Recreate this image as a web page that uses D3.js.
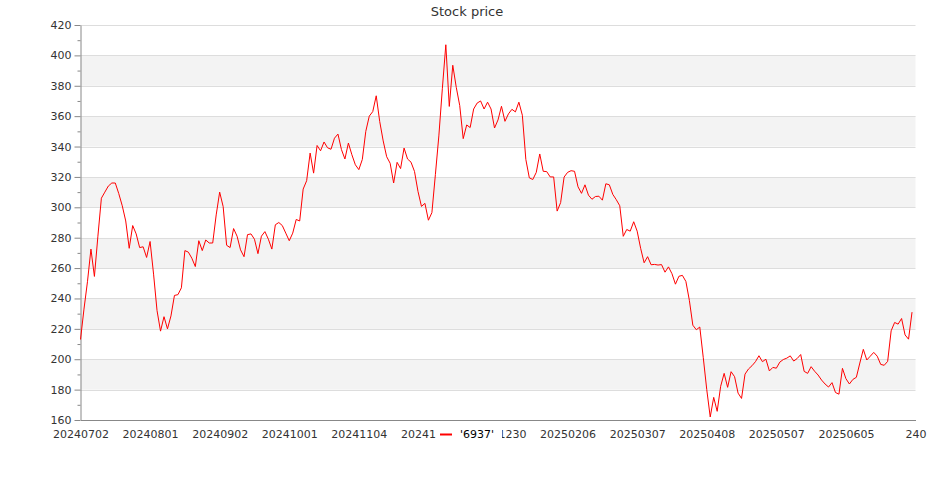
<!DOCTYPE html>
<html>
<head>
<meta charset="utf-8">
<script src="https://cdn.jsdelivr.net/npm/d3@7"></script>
<style>
  html, body { margin: 0; padding: 0; background: #fff; }
  svg { display: block; font-family: "DejaVu Sans", sans-serif; }
</style>
</head>
<body>
<svg id="chart" width="935" height="500"></svg>
<script>
const title = "Stock price";
const seriesName = "'6937'";
const tickLabels = ["20240702", "20240801", "20240902", "20241001", "20241104", "20241202",
  "20241230", "20250206", "20250307", "20250408", "20250507", "20250605", "240"];
const labelEvery = 20;
const categoryCount = 241;
const yTicks = [160, 180, 200, 220, 240, 260, 280, 300, 320, 340, 360, 380, 400, 420];
const prices = [
  213, 233, 251, 272.5, 254.5, 281, 306, 310, 314, 316,
  316, 309, 301, 291, 273, 288, 282.5, 273.5, 274, 267,
  277.5, 256, 232, 218.5, 228, 220, 228.5, 242, 242.5, 247,
  271.5, 270.5, 266.5, 261, 278, 271.5, 278.5, 276.5, 276.5, 295,
  310, 300.5, 275, 273.5, 286, 281, 272, 267.5, 282, 282.5,
  279, 269.5, 281, 284, 279, 272.5, 288.5, 290, 288, 283,
  278, 283, 292, 291, 312, 317.5, 335.7, 322.5, 340.7, 337.2,
  343, 339.2, 338.2, 345.5, 348.2, 338, 331.8, 342.3, 334.6, 328,
  324.8, 331.5, 350, 360, 363, 373.4, 356.5, 343.7, 333.3, 329,
  316, 329.6, 325.5, 339, 331.8, 329.7, 323.6, 310.5, 300.6, 302.6,
  291.5, 296.5, 321.5, 347, 378, 407, 366.4, 393.5, 379, 367,
  345.2, 354.2, 352.5, 364.7, 368.6, 370, 364.7, 369.2, 364.7, 352.2,
  357.5, 366.5, 356.6, 361.5, 364.5, 362.8, 369.2, 360.6, 331.5, 319.4,
  318.3, 323, 335.1, 323.7, 323.5, 320, 320, 297.5, 303.1, 319.9,
  323, 324.1, 323.7, 313.5, 309.2, 314.8, 308, 305.3, 307.1, 307.3,
  304.7, 315.5, 314.8, 308.5, 305, 301, 280.9, 285.4, 284.3, 290.5,
  284.3, 273, 263.5, 267.5, 262.2, 262.4, 262, 262.3, 257.3, 260.8,
  256.3, 249.4, 254.6, 255.2, 251.2, 238.8, 222.4, 219.4, 221.2, 201,
  180, 162, 174.9, 165.7, 182.2, 190.7, 181.5, 191.8, 188.5, 177.7,
  174.2, 190.2, 193.6, 195.7, 198.4, 202.3, 198.4, 200, 192.3, 194.6,
  194.1, 198.1, 199.8, 200.7, 202.2, 198.8, 200.5, 203.1, 192, 190.7,
  195.1, 192.1, 189.6, 186.3, 183.7, 181.7, 184.6, 178.1, 177, 194,
  187.2, 183.7, 186.7, 188.1, 197.5, 206.5, 199.5, 202, 204.5, 202,
  196.6, 196, 198.6, 218.7, 224.2, 223.1, 226.8, 216, 213.2, 231
];

const svg = d3.select("#chart");
const plotLeft = 80.5, plotRight = 915.5, plotTop = 25, plotBottom = 420;

const x = d3.scaleLinear().domain([0, categoryCount - 1]).range([plotLeft, plotRight]);
const y = d3.scaleLinear().domain([160, 420]).range([plotBottom, plotTop]);

// alternating bands
const bandStarts = yTicks.slice(0, -1);
svg.append("g").selectAll("rect").data(bandStarts).join("rect")
  .attr("x", plotLeft).attr("width", plotRight - plotLeft)
  .attr("y", d => y(d + 20)).attr("height", d => y(d) - y(d + 20))
  .attr("fill", (d, i) => (i % 2 === 1 ? "#f3f3f3" : "#ffffff"));

// grid lines
svg.append("g").selectAll("line").data(yTicks.slice(1)).join("line")
  .attr("x1", plotLeft).attr("x2", plotRight)
  .attr("y1", d => Math.round(y(d)) + 0.5).attr("y2", d => Math.round(y(d)) + 0.5)
  .attr("stroke", "#dddddd").attr("stroke-width", 1);

// title
svg.append("text").attr("x", 467).attr("y", 16).attr("text-anchor", "middle")
  .attr("font-size", 13).attr("fill", "#333").text(title);

// y axis (major + minor ticks)
const minorTicks = yTicks.slice(0, -1).map(v => v + 10);
const yAxis = svg.append("g").attr("transform", `translate(${plotLeft},0)`)
  .call(d3.axisLeft(y).tickValues(yTicks).tickSize(6).tickPadding(3).tickSizeOuter(0));
svg.append("g").attr("transform", `translate(${plotLeft},0)`)
  .call(d3.axisLeft(y).tickValues(minorTicks).tickSize(3).tickFormat("").tickSizeOuter(0))
  .call(g => g.select(".domain").remove())
  .selectAll("line").attr("stroke", "#888");
yAxis.select(".domain").attr("stroke", "#888");
yAxis.selectAll(".tick line").attr("stroke", "#888");
yAxis.selectAll(".tick text").attr("font-size", 11).attr("fill", "#333")
  .attr("font-family", "DejaVu Sans");

// x axis
const tickIdx = tickLabels.map((d, i) => i * labelEvery);
const xAxis = svg.append("g").attr("transform", `translate(0,${plotBottom})`)
  .call(d3.axisBottom(x).tickValues(tickIdx).tickSize(0).tickPadding(10)
    .tickFormat((d, i) => tickLabels[i]).tickSizeOuter(0));
xAxis.select(".domain").attr("stroke", "#888");
xAxis.selectAll(".tick text").attr("font-size", 11).attr("fill", "#333")
  .attr("font-family", "DejaVu Sans");

// line
const line = d3.line().x((d, i) => x(i)).y(d => y(d));
svg.append("path").datum(prices).attr("d", line)
  .attr("fill", "none").attr("stroke", "#ff0000").attr("stroke-width", 1)
  .attr("stroke-linejoin", "miter");

// legend (drawn over the axis labels, as in the reference)
const lg = svg.append("g");
lg.append("rect").attr("x", 436).attr("y", 426).attr("width", 66).attr("height", 18).attr("fill", "#fff");
lg.append("line").attr("x1", 440).attr("x2", 452).attr("y1", 434.5).attr("y2", 434.5)
  .attr("stroke", "#ff0000").attr("stroke-width", 2);
lg.append("text").attr("x", 460).attr("y", 438).attr("font-size", 11).attr("fill", "#000")
  .text(seriesName);
</script>
</body>
</html>
